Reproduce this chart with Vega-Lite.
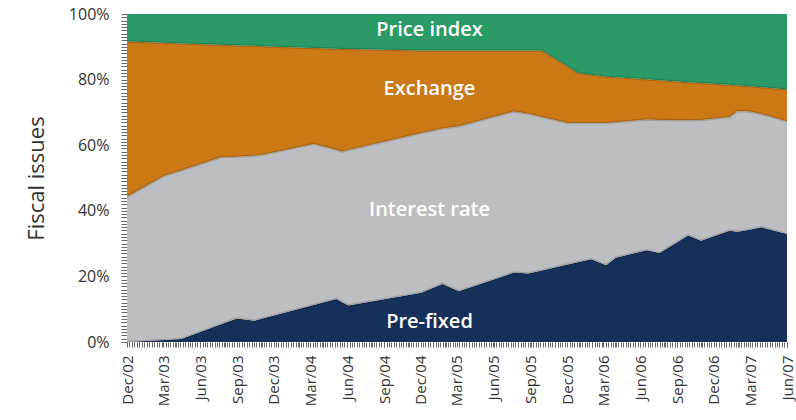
{
  "$schema": "https://vega.github.io/schema/vega-lite/v6.json",
  "width": 660,
  "height": 328,
  "autosize": {"type": "none"},
  "padding": {"left": 127, "top": 14, "right": 9, "bottom": 78},
  "background": "white",
  "config": {"view": {"stroke": null}, "font": "Open Sans"},
  "datasets": {
    "shares": [
      {"d": "2002-12-01", "Pre-fixed": 0, "Interest rate": 44.3, "Exchange": 47.3, "Price index": 8.4},
      {"d": "2003-03-04", "Pre-fixed": 0.6, "Interest rate": 50.1, "Exchange": 40.5, "Price index": 8.8},
      {"d": "2003-04-15", "Pre-fixed": 0.9, "Interest rate": 51.4, "Exchange": 38.7, "Price index": 9.0},
      {"d": "2003-07-23", "Pre-fixed": 5.4, "Interest rate": 50.9, "Exchange": 34.3, "Price index": 9.4},
      {"d": "2003-09-01", "Pre-fixed": 7.2, "Interest rate": 49.3, "Exchange": 33.9, "Price index": 9.6},
      {"d": "2003-10-14", "Pre-fixed": 6.5, "Interest rate": 50.3, "Exchange": 33.5, "Price index": 9.7},
      {"d": "2003-11-01", "Pre-fixed": 7.1, "Interest rate": 49.9, "Exchange": 33.2, "Price index": 9.8},
      {"d": "2004-03-10", "Pre-fixed": 11.3, "Interest rate": 49.1, "Exchange": 29.2, "Price index": 10.4},
      {"d": "2004-05-05", "Pre-fixed": 13.1, "Interest rate": 45.5, "Exchange": 30.8, "Price index": 10.6},
      {"d": "2004-05-17", "Pre-fixed": 12.3, "Interest rate": 45.7, "Exchange": 31.3, "Price index": 10.7},
      {"d": "2004-06-04", "Pre-fixed": 11.1, "Interest rate": 47.4, "Exchange": 30.8, "Price index": 10.7},
      {"d": "2004-12-03", "Pre-fixed": 15.0, "Interest rate": 48.7, "Exchange": 25.2, "Price index": 11.1},
      {"d": "2005-01-24", "Pre-fixed": 17.7, "Interest rate": 47.4, "Exchange": 23.8, "Price index": 11.1},
      {"d": "2005-03-06", "Pre-fixed": 15.5, "Interest rate": 50.3, "Exchange": 23.1, "Price index": 11.1},
      {"d": "2005-07-22", "Pre-fixed": 21.2, "Interest rate": 49.1, "Exchange": 18.6, "Price index": 11.1},
      {"d": "2005-08-26", "Pre-fixed": 20.9, "Interest rate": 48.7, "Exchange": 19.3, "Price index": 11.1},
      {"d": "2005-09-29", "Pre-fixed": 21.8, "Interest rate": 46.8, "Exchange": 20.3, "Price index": 11.1},
      {"d": "2005-12-02", "Pre-fixed": 23.6, "Interest rate": 43.2, "Exchange": 17.3, "Price index": 15.9},
      {"d": "2005-12-27", "Pre-fixed": 24.3, "Interest rate": 42.5, "Exchange": 15.2, "Price index": 18.0},
      {"d": "2006-01-30", "Pre-fixed": 25.2, "Interest rate": 41.6, "Exchange": 14.7, "Price index": 18.5},
      {"d": "2006-03-08", "Pre-fixed": 23.4, "Interest rate": 43.4, "Exchange": 14.1, "Price index": 19.1},
      {"d": "2006-04-01", "Pre-fixed": 25.7, "Interest rate": 41.3, "Exchange": 13.7, "Price index": 19.3},
      {"d": "2006-06-17", "Pre-fixed": 28.0, "Interest rate": 39.8, "Exchange": 12.3, "Price index": 19.9},
      {"d": "2006-07-19", "Pre-fixed": 27.1, "Interest rate": 40.6, "Exchange": 12.1, "Price index": 20.2},
      {"d": "2006-09-28", "Pre-fixed": 32.5, "Interest rate": 35.1, "Exchange": 11.6, "Price index": 20.8},
      {"d": "2006-10-30", "Pre-fixed": 30.9, "Interest rate": 36.8, "Exchange": 11.3, "Price index": 21.0},
      {"d": "2007-01-09", "Pre-fixed": 33.9, "Interest rate": 34.7, "Exchange": 9.8, "Price index": 21.6},
      {"d": "2007-01-29", "Pre-fixed": 33.6, "Interest rate": 36.8, "Exchange": 7.8, "Price index": 21.8},
      {"d": "2007-02-28", "Pre-fixed": 34.2, "Interest rate": 36.1, "Exchange": 7.7, "Price index": 22.0},
      {"d": "2007-03-29", "Pre-fixed": 35.0, "Interest rate": 34.5, "Exchange": 8.2, "Price index": 22.3},
      {"d": "2007-06-01", "Pre-fixed": 32.9, "Interest rate": 34.4, "Exchange": 9.7, "Price index": 23.0}
    ],
    "ranks": [
      {"series": "Pre-fixed", "rank": 1},
      {"series": "Interest rate", "rank": 2},
      {"series": "Exchange", "rank": 3},
      {"series": "Price index", "rank": 4}
    ],
    "labels": [
      {"d": "2004-12-23", "v": 95.1, "label": "Price index"},
      {"d": "2004-12-23", "v": 77.1, "label": "Exchange"},
      {"d": "2004-12-23", "v": 40.2, "label": "Interest rate"},
      {"d": "2004-12-23", "v": 6.1, "label": "Pre-fixed"}
    ]
  },
  "layer": [
    {
      "data": {"name": "shares"},
      "transform": [
        {"fold": ["Pre-fixed", "Interest rate", "Exchange", "Price index"], "as": ["series", "v"]},
        {"lookup": "series", "from": {"data": {"name": "ranks"}, "key": "series", "fields": ["rank"]}}
      ],
      "mark": {"type": "area", "interpolate": "linear"},
      "encoding": {
        "x": {
          "field": "d", "type": "temporal",
          "scale": {"type": "utc", "nice": false, "domain": [{"year": 2002, "month": 12, "date": 1, "utc": true}, {"year": 2007, "month": 6, "date": 1, "utc": true}]},
          "axis": {
            "title": null, "grid": false, "domain": false,
            "tickCount": {"interval": "day", "step": 6},
            "labelExpr": "utcdate(datum.value) == 1 && utcmonth(datum.value) % 3 == 2 ? utcFormat(datum.value, '%b/%y') : ''",
            "labelAngle": -90, "labelFontSize": 15, "labelColor": "#333333",
            "labelOverlap": false, "labelFlush": false, "labelBound": false,
            "labelPadding": 8, "tickSize": 5, "tickColor": "#666666"
          }
        },
        "y": {
          "field": "v", "type": "quantitative", "stack": "zero",
          "scale": {"domain": [0, 100], "nice": false},
          "axis": {
            "title": "Fiscal issues", "titleFontSize": 22, "titleFontWeight": "normal", "titleColor": "#333333", "titlePadding": 20,
            "grid": false, "domain": false, "tickCount": 100,
            "labelExpr": "datum.value % 20 == 0 ? datum.value + '%' : ''",
            "labelFontSize": 16, "labelColor": "#333333", "labelOverlap": false,
            "labelPadding": 12, "tickSize": 6, "tickColor": "#666666"
          }
        },
        "order": {"field": "rank", "type": "quantitative", "sort": "ascending"},
        "color": {
          "field": "series", "type": "nominal",
          "scale": {"domain": ["Pre-fixed", "Interest rate", "Exchange", "Price index"], "range": ["#16305a", "#bdbec1", "#cb7816", "#2a9b67"]},
          "legend": null
        }
      }
    },
    {
      "data": {"name": "shares"},
      "transform": [
        {"fold": ["Pre-fixed", "Interest rate", "Exchange", "Price index"], "as": ["series", "v"]},
        {"lookup": "series", "from": {"data": {"name": "ranks"}, "key": "series", "fields": ["rank"]}}
      ],
      "mark": {"type": "line", "interpolate": "linear", "color": "#000000", "strokeWidth": 2.5},
      "encoding": {
        "x": {"field": "d", "type": "temporal"},
        "y": {"field": "v", "type": "quantitative", "stack": "zero"},
        "order": {"field": "rank", "type": "quantitative", "sort": "ascending"},
        "detail": {"field": "series", "type": "nominal"},
        "opacity": {"condition": {"test": "datum.rank == 4", "value": 0}, "value": 0.15}
      }
    },
    {
      "data": {"name": "labels"},
      "mark": {"type": "text", "color": "white", "fontSize": 20, "fontWeight": 600, "font": "Open Sans", "baseline": "middle", "align": "center"},
      "encoding": {
        "x": {"field": "d", "type": "temporal"},
        "y": {"field": "v", "type": "quantitative", "stack": null},
        "text": {"field": "label"}
      }
    }
  ]
}
